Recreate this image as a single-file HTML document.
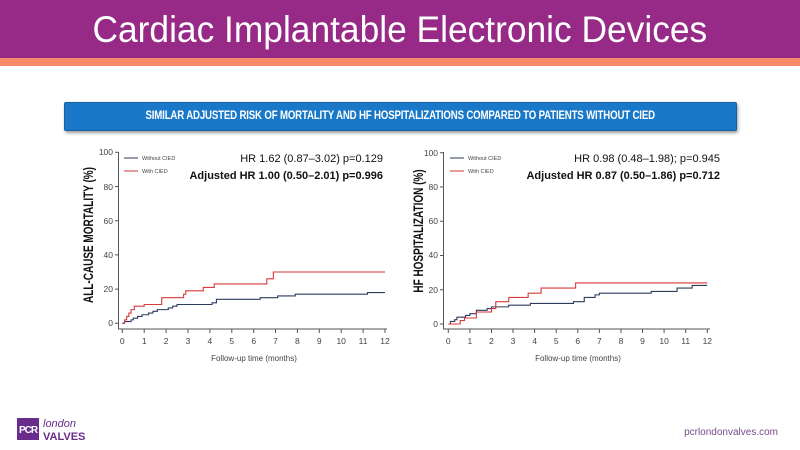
<!DOCTYPE html>
<html><head><meta charset="utf-8"><style>
body{margin:0;width:800px;height:450px;overflow:hidden;background:#fff;font-family:"Liberation Sans",sans-serif;position:relative}
.hdr{position:absolute;left:0;top:0;width:800px;height:58px;background:#962a86;color:#fff;font-size:37px;text-align:center;line-height:60px}
.hdr span{display:inline-block;transform:scaleX(0.955)}
.or{position:absolute;left:0;top:58px;width:800px;height:8px;background:#f58b68}
.box{position:absolute;left:64px;top:102px;width:671px;height:27px;background:#1a78c8;border:1px solid #16609e;border-radius:2px;box-shadow:1px 2px 3px rgba(0,0,0,.4);color:#fff;font-weight:bold;font-size:11.5px;text-align:center;line-height:27px;letter-spacing:-0.2px}
.box span{display:inline-block;transform:scaleX(0.84)}
</style></head><body>
<div class="hdr"><span>Cardiac Implantable Electronic Devices</span></div>
<div class="or"></div>
<div class="box"><span>SIMILAR ADJUSTED RISK OF MORTALITY AND HF HOSPITALIZATIONS COMPARED TO PATIENTS WITHOUT CIED</span></div>
<svg width="800" height="450" style="position:absolute;left:0;top:0" font-family="Liberation Sans, sans-serif">
<!-- left chart -->
<g stroke="#555" stroke-width="1" fill="none">
<path d="M118.5 152V329H387"/>
<path d="M115 323.3h3.5M115 289.1h3.5M115 254.9h3.5M115 220.7h3.5M115 186.5h3.5M115 152.3h3.5"/>
<path d="M122.3 329v4M144.2 329v4M166.1 329v4M188 329v4M209.9 329v4M231.8 329v4M253.7 329v4M275.5 329v4M297.4 329v4M319.3 329v4M341.2 329v4M363.1 329v4M385 329v4"/>
</g>
<g font-size="8.5" fill="#444" text-anchor="end">
<text x="113" y="326">0</text><text x="113" y="292">20</text><text x="113" y="258">40</text><text x="113" y="224">60</text><text x="113" y="190">80</text><text x="113" y="155">100</text></g>
<g font-size="8.5" fill="#444" text-anchor="middle">
<text x="122.3" y="344">0</text><text x="144.2" y="344">1</text><text x="166.1" y="344">2</text><text x="188" y="344">3</text><text x="209.9" y="344">4</text><text x="231.8" y="344">5</text><text x="253.7" y="344">6</text><text x="275.5" y="344">7</text><text x="297.4" y="344">8</text><text x="319.3" y="344">9</text><text x="341.2" y="344">10</text><text x="363.1" y="344">11</text><text x="385" y="344">12</text>
<text x="254" y="361" font-size="8">Follow-up time (months)</text></g>
<text transform="translate(93,235) rotate(-90) scale(0.74,1)" text-anchor="middle" font-size="13.5" font-weight="bold" fill="#111">ALL-CAUSE MORTALITY (%)</text>
<path d="M124 158h14" stroke="#2d3a5c"/><text x="142" y="160" font-size="5.5" fill="#444">Without CIED</text>
<path d="M124 171h14" stroke="#d63a3a"/><text x="142" y="173" font-size="5.5" fill="#444">With CIED</text>
<text x="383" y="162" font-size="11" text-anchor="end" fill="#111">HR 1.62 (0.87–3.02) p=0.129</text>
<text x="383" y="179" font-size="11" text-anchor="end" font-weight="bold" fill="#111">Adjusted HR 1.00 (0.50–2.01) p=0.996</text>
<g transform="translate(122.3,323.3) scale(21.89,-1.71)" fill="none" stroke-width="1.1">
<path vector-effect="non-scaling-stroke" stroke="#2d3a5c" d="M0 0H0.1V1H0.4V2H0.5V3H0.7V4H0.9V5H1.2V6H1.4V7H1.6V8H2.1V9H2.3V10H2.5V11H4.1V12H4.3V14H6.3V15H7.1V16H7.9V17H11.2V18H12"/>
<path vector-effect="non-scaling-stroke" stroke="#d63a3a" d="M0 0H0.1V2H0.2V4H0.3V6H0.4V8H0.55V10H1V11H1.8V15H2.8V17H2.9V19H3.7V21H4.2V23H6.6V26H6.9V30H12"/>
</g>
<!-- right chart -->
<g stroke="#555" stroke-width="1" fill="none">
<path d="M443.5 152V329H710"/>
<path d="M440 324h3.5M440 289.7h3.5M440 255.5h3.5M440 221.2h3.5M440 187h3.5M440 152.7h3.5"/>
<path d="M448.3 329v4M469.9 329v4M491.5 329v4M513 329v4M534.6 329v4M556.2 329v4M577.8 329v4M599.4 329v4M621 329v4M642.5 329v4M664.1 329v4M685.7 329v4M707.3 329v4"/>
</g>
<g font-size="8.5" fill="#444" text-anchor="end">
<text x="438" y="327">0</text><text x="438" y="293">20</text><text x="438" y="258">40</text><text x="438" y="224">60</text><text x="438" y="190">80</text><text x="438" y="156">100</text></g>
<g font-size="8.5" fill="#444" text-anchor="middle">
<text x="448.3" y="344">0</text><text x="469.9" y="344">1</text><text x="491.5" y="344">2</text><text x="513" y="344">3</text><text x="534.6" y="344">4</text><text x="556.2" y="344">5</text><text x="577.8" y="344">6</text><text x="599.4" y="344">7</text><text x="621" y="344">8</text><text x="642.5" y="344">9</text><text x="664.1" y="344">10</text><text x="685.7" y="344">11</text><text x="707.3" y="344">12</text>
<text x="578" y="361" font-size="8">Follow-up time (months)</text></g>
<text transform="translate(423,231) rotate(-90) scale(0.74,1)" text-anchor="middle" font-size="13.5" font-weight="bold" fill="#111">HF HOSPITALIZATION (%)</text>
<path d="M450 158h14" stroke="#2d3a5c"/><text x="468" y="160" font-size="5.5" fill="#444">Without CIED</text>
<path d="M450 171h14" stroke="#d63a3a"/><text x="468" y="173" font-size="5.5" fill="#444">With CIED</text>
<text x="720" y="162" font-size="11" text-anchor="end" fill="#111">HR 0.98 (0.48–1.98); p=0.945</text>
<text x="720" y="179" font-size="11" text-anchor="end" font-weight="bold" fill="#111">Adjusted HR 0.87 (0.50–1.86) p=0.712</text>
<g transform="translate(448.3,324) scale(21.58,-1.713)" fill="none" stroke-width="1.1">
<path vector-effect="non-scaling-stroke" stroke="#2d3a5c" d="M0 0H0.1V1.5H0.3V2.5H0.4V4H0.8V5H1V6H1.3V8H1.8V9H2V10H2.8V11H3.8V12H5.8V13H6.3V15.5H6.8V17H7V18H9.4V19H10.6V21H11.3V22.5H12"/>
<path vector-effect="non-scaling-stroke" stroke="#d63a3a" d="M0 0H0.55V2H0.75V3.5H1.3V7H2V9H2.2V13H2.8V15.5H3.7V18H4.3V21H5.9V24H12"/>
</g>
<!-- footer -->
<rect x="17" y="418" width="22" height="22" fill="#6a2c8c"/>
<text x="28" y="433" font-size="10" font-weight="bold" fill="#fff" text-anchor="middle" letter-spacing="-1">PCR</text>
<text x="43" y="427" font-size="11" font-style="italic" fill="#6a2c8c">london</text>
<text x="43" y="440" font-size="11" font-weight="bold" fill="#6a2c8c">VALVES</text>
<text x="778" y="435" font-size="10" fill="#7a4a8c" text-anchor="end">pcrlondonvalves.com</text>
</svg>
</body></html>
